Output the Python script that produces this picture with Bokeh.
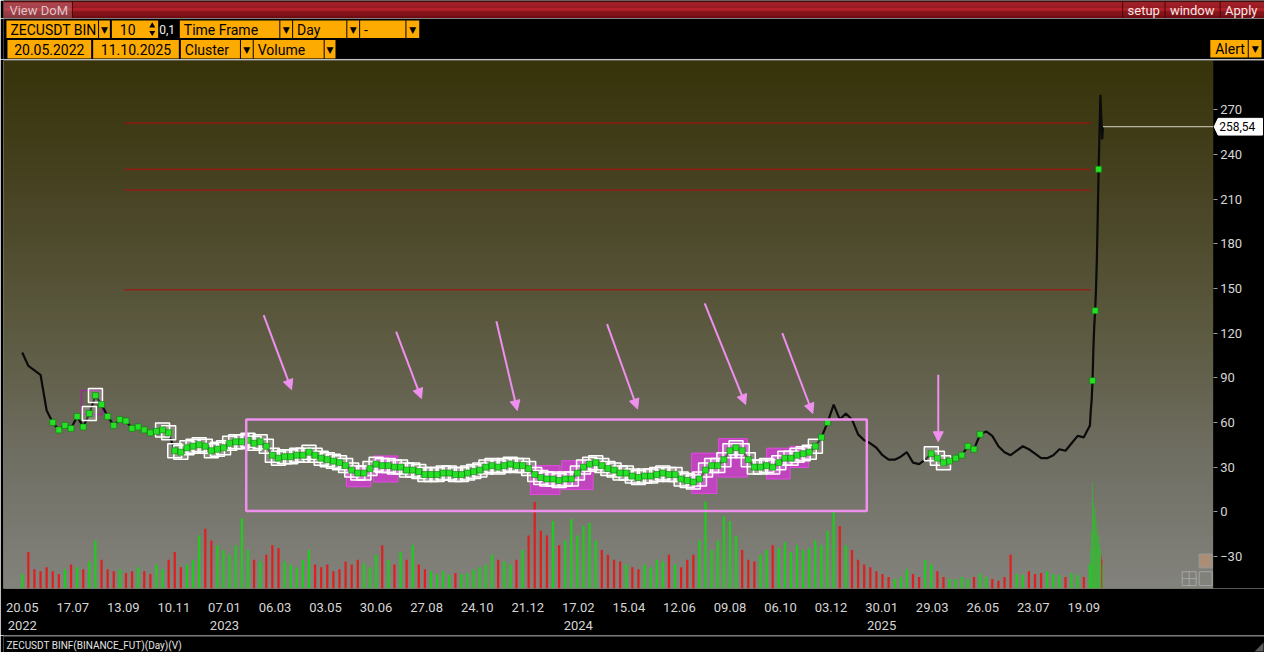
import numpy as np
import pandas as pd
from bokeh.plotting import figure
from bokeh.models import (Range1d, FixedTicker, ColumnDataSource, Arrow, NormalHead,
                          BoxAnnotation, LinearAxis)
from bokeh.layouts import column
from bokeh.embed import file_html
from bokeh.resources import INLINE
from bokeh.core.properties import value

# ---------------------------------------------------------------- data
START = "2022-05-20"

# weekly closes, one every 7 days from 20.05.2022
weekly_close = [
    107, 98, 95, 92, 68, 60, 55, 58, 56, 64,
    57, 66, 78, 72, 64, 58, 62, 61, 56, 57,
    55, 53, 54, 55, 53, 41, 40, 43, 44, 45,
    44, 41, 42, 43, 46, 47, 47, 48, 46, 47,
    44, 38, 36, 37, 37, 38, 38, 40, 38, 36,
    35, 34, 33, 31, 28, 26, 26, 29, 32, 31,
    31, 30, 30, 28, 28, 27, 25, 25, 25, 26,
    26, 25, 25, 26, 27, 28, 30, 31, 30, 31,
    32, 31, 31, 29, 25, 23, 22, 22, 21, 22,
    22, 26, 30, 32, 33, 31, 29, 28, 26, 26,
    24, 23, 24, 24, 25, 26, 25, 25, 22, 21,
    20, 22, 28, 31, 31, 35, 41, 43, 41, 35,
    30, 30, 31, 30, 33, 36, 36, 38, 39, 40,
    44, 50, 60, 72, 62, 66, 62, 52, 48, 46,
    43, 38, 35, 35, 37, 40, 33, 32, 35, 39,
    36, 33, 34, 36, 38, 44, 42, 52, 54, 51,
    44, 40, 38, 41, 44, 42, 39, 36, 36, 38,
    42, 41, 46, 51, 50, 58,
]
weekly_volume = [
    15, 38, 20, 18, 22, 18, 15, 20, 25, 22,
    20, 28, 50, 30, 20, 18, 20, 16, 18, 22,
    18, 15, 25, 20, 30, 38, 22, 25, 30, 55,
    62, 50, 45, 40, 35, 45, 73, 40, 30, 28,
    35, 45, 42, 28, 25, 22, 30, 40, 25, 22,
    25, 18, 20, 28, 25, 30, 26, 22, 35, 45,
    30, 25, 38, 30, 45, 25, 20, 18, 15, 18,
    14, 16, 15, 16, 20, 22, 25, 35, 30, 28,
    25, 30, 40, 55, 90, 60, 55, 70, 45, 50,
    72, 55, 65, 68, 50, 40, 35, 30, 28, 25,
    22, 20, 25, 22, 30, 28, 35, 25, 22, 30,
    35, 50, 90, 40, 50, 75, 70, 55, 40, 30,
    28, 35, 40, 45, 42, 48, 38, 45, 40, 42,
    50, 45, 60, 80, 65, 45, 40, 30, 25, 22,
    18, 15, 12, 10, 12, 20, 15, 12, 30, 25,
    18, 12, 10, 10, 12, 10, 12, 15, 12, 10,
    8, 12, 35, 15, 14, 18, 15, 16, 18, 15,
    14, 12, 16, 14, 12, 25,
]
# daily closes of the final breakout
breakout_dates = ["2025-09-27", "2025-09-28", "2025-09-29", "2025-09-30", "2025-10-01",
                  "2025-10-02", "2025-10-03", "2025-10-04", "2025-10-05", "2025-10-06",
                  "2025-10-07", "2025-10-08", "2025-10-09", "2025-10-10", "2025-10-11"]
breakout_close = [68, 75, 88, 110, 125, 135, 150, 170, 200, 230, 255, 280, 265, 250, 258.54]
breakout_volume = [40, 60, 110, 90, 75, 85, 60, 55, 70, 45, 55, 40, 35, 30, 25]

tick_dates = ["2022-05-20", "2022-07-17", "2022-09-13", "2022-11-10", "2023-01-07",
              "2023-03-06", "2023-05-03", "2023-06-30", "2023-08-27", "2023-10-24",
              "2023-12-21", "2024-02-17", "2024-04-15", "2024-06-12", "2024-08-09",
              "2024-10-06", "2024-12-03", "2025-01-30", "2025-03-29", "2025-05-26",
              "2025-07-23", "2025-09-19"]
tick_labels = ["20.05\n2022", "17.07", "13.09", "10.11", "07.01\n2023", "06.03", "03.05",
               "30.06", "27.08", "24.10", "21.12", "17.02\n2024", "15.04", "12.06", "09.08",
               "06.10", "03.12", "30.01\n2025", "29.03", "26.05", "23.07", "19.09"]
price_ticks = [-30, 0, 30, 60, 90, 120, 150, 180, 210, 240, 270]

levels = [261, 230, 216, 149]
level_from, level_to = "2022-09-14", "2025-09-27"
last_price = 258.54
last_price_text = "258,54"

zone_start, zone_end, zone_low, zone_high = "2023-02-01", "2025-01-13", 0.5, 62

hl_start = ["2023-05-27", "2023-06-27", "2023-12-24", "2024-01-29", "2024-06-26",
            "2024-07-27", "2024-09-20", "2024-10-17"]
hl_end = ["2023-06-24", "2023-07-25", "2024-01-27", "2024-03-05", "2024-07-25",
          "2024-08-29", "2024-10-17", "2024-11-07"]
hl_low = [16.8, 20, 11.6, 14.9, 12.3, 23.3, 22, 29.7]
hl_high = [31, 37.5, 31, 34.3, 39.4, 49.1, 42.7, 44]

arrow_from_date = ["2023-02-21", "2023-07-23", "2023-11-15", "2024-03-21", "2024-07-11",
                   "2024-10-08", "2025-04-05"]
arrow_from_price = [132, 121, 128, 126, 140, 120, 92]
arrow_to_date = ["2023-03-25", "2023-08-21", "2023-12-09", "2024-04-25", "2024-08-27",
                 "2024-11-12", "2025-04-05"]
arrow_to_price = [82, 76, 68, 69, 72, 66, 47]

# ---------------------------------------------------------------- helpers
T0 = pd.Timestamp(START)


def dnum(s):
    return (pd.Timestamp(s) - T0).days


W = 1264
PINK = "#ef8fee"
ORANGE = "#fdab00"
FONT = "Roboto"

weekly_days = [7 * i for i in range(len(weekly_close))]
days = weekly_days + [dnum(s) for s in breakout_dates]
close = weekly_close + breakout_close
vols = weekly_volume + breakout_volume
widths = [2.6] * len(weekly_close) + [0.7] * len(breakout_close)
vcol = ["#19d019" if i == 0 or close[i] >= close[i - 1] else "#e31b1b" for i in range(len(close))]


def vgrad(stops, n=240):
    t = np.linspace(0, 1, n)
    fr = [s[0] for s in stops]
    img = np.zeros((n, 1), dtype=np.uint32)
    v = img.view(dtype=np.uint8).reshape((n, 1, 4))
    for c in range(3):
        v[:, 0, c] = np.interp(t, fr, [s[1][c] for s in stops]).astype(np.uint8)
    v[:, 0, 3] = 255
    return img


def chrome(h, y_top, y_bot):
    f = figure(width=W, height=h, x_range=Range1d(0, 1280), y_range=Range1d(y_bot, y_top),
               toolbar_location=None, output_backend="svg", min_border=0,
               x_axis_location=None, y_axis_location=None, outline_line_color=None,
               background_fill_color="black", border_fill_color="black")
    f.grid.visible = False
    return f


def put_text(f, x, y, s, size="14px", color="black", align="left", font=FONT):
    f.text(x=[x], y=[y], text=[s], text_font=value(font), text_font_size=size,
           text_color=color, text_align=align, text_baseline="middle")


# ---------------------------------------------------------------- header bar
hdr = chrome(18, 0, 19)
top_c = np.array([206, 44, 54])
bot_c = np.array([146, 18, 26])
ys = np.arange(1, 19)
cols = []
for yy in ys:
    c = top_c + (bot_c - top_c) * (yy - 1) / 17.0
    cols.append("#%02x%02x%02x" % tuple(int(v) for v in c))
hdr.quad(left=0, right=1280, top=ys, bottom=ys + 1, fill_color=cols, line_color=None)
hdr.quad(left=0, right=1280, top=0, bottom=1, fill_color="#300606", line_color=None)
hdr.quad(left=0, right=70, top=2, bottom=19, fill_color="#c8a8b0", fill_alpha=0.28, line_color=None)
hdr.segment(x0=[70, 1136, 1179, 1235], x1=[70, 1136, 1179, 1235], y0=1, y1=19,
            line_color="#4a0508", line_width=1)
put_text(hdr, 6, 10.5, "View DoM", size="13px", color="#dcc6c8")
put_text(hdr, 1141, 10.5, "setup", size="13px", color="#f4e8e8")
put_text(hdr, 1184, 10.5, "window", size="13px", color="#f4e8e8")
put_text(hdr, 1240, 10.5, "Apply", size="13px", color="#f4e8e8")

# ---------------------------------------------------------------- toolbar
tb = chrome(41, 19, 61)
cells = [
    (3, 96, 21, 39, "ZECUSDT BIN", "left"),
    (97, 108, 21, 39, "▼", "center"),
    (110, 157, 21, 39, "10", "c126"),
    (179, 280, 21, 39, "Time Frame", "left"),
    (281, 293, 21, 39, "▼", "center"),
    (294, 348, 21, 39, "Day", "left"),
    (349, 361, 21, 39, "▼", "center"),
    (362, 408, 21, 39, "-", "left"),
    (409, 422, 21, 39, "▼", "center"),
    (4, 89, 41, 60, "20.05.2022", "center"),
    (91, 178, 41, 60, "11.10.2025", "center"),
    (180, 240, 41, 60, "Cluster", "left"),
    (241, 253, 41, 60, "▼", "center"),
    (254, 325, 41, 60, "Volume", "left"),
    (326, 337, 41, 60, "▼", "center"),
    (1225, 1263, 41, 59, "Alert", "right"),
    (1264, 1277, 41, 59, "▼", "center"),
]
tb.quad(left=[c[0] for c in cells], right=[c[1] for c in cells],
        top=[c[2] for c in cells], bottom=[c[3] for c in cells],
        fill_color=ORANGE, line_color=None)
for x0, x1, y0, y1, s, al in cells:
    ym = (y0 + y1) / 2 + 0.5
    if s == "▼":
        put_text(tb, (x0 + x1) / 2, ym, s, size="9px", align="center", font="DejaVu Sans")
    elif al == "left":
        put_text(tb, x0 + 4, ym, s)
    elif al == "right":
        put_text(tb, x1 - 3, ym, s, align="right")
    elif al == "c126":
        put_text(tb, 126, ym, s, align="center")
    else:
        put_text(tb, (x0 + x1) / 2, ym, s, align="center")
tb.scatter(x=[151, 151], y=[26.5, 33.5], marker=["triangle", "inverted_triangle"], size=6,
           fill_color="black", line_color=None)
put_text(tb, 158, 30.5, "0,1", size="12px", color="#f0f0f0")
tb.segment(x0=0, x1=1280, y0=60.8, y1=60.8, line_color="#3a3a3a", line_width=1)

# ---------------------------------------------------------------- main chart
x_lo, x_hi = -21.5, 1425.3      # frame spans the whole width, price scale inside it
ax_x = 1366.4                   # where the price scale stands
y_lo, y_hi = -51.5, 303
p = figure(width=W, height=576, x_range=Range1d(x_lo, x_hi), y_range=Range1d(y_lo, y_hi),
           y_axis_location=None, toolbar_location=None, output_backend="svg",
           min_border_left=3, min_border_right=0, min_border_top=1, min_border_bottom=39,
           border_fill_color="black", background_fill_color="#6a6858", outline_line_color=None)
p.grid.visible = False

bg = vgrad([(0.0, (131, 131, 125)), (0.237, (113, 112, 101)), (0.474, (93, 91, 66)),
            (0.747, (72, 68, 36)), (1.0, (55, 51, 10))])
p.image_rgba(image=[bg], x=x_lo, y=y_lo, dw=ax_x - x_lo, dh=y_hi - y_lo)
p.quad(left=ax_x, right=x_hi, bottom=y_lo, top=y_hi, fill_color="black", line_color=None)

px_day = (x_hi - x_lo) / 1261.0
px_val = (y_hi - y_lo) / 536.0

# volume (own hidden scale)
p.extra_y_ranges = {"vol": Range1d(0, 549)}
vsrc = ColumnDataSource(dict(x=days, top=vols, w=widths, c=vcol))
p.vbar(x="x", top="top", width="w", bottom=0, fill_color="c", line_color=None,
       fill_alpha=0.95, y_range_name="vol", source=vsrc)

# resistance levels
lv_from, lv_to = dnum(level_from), dnum(level_to)
p.segment(x0=lv_from, x1=lv_to, y0=levels, y1=levels, line_color="#b00e0e", line_width=1)

# magenta cluster highlights
p.quad(left=[dnum(s) for s in hl_start], right=[dnum(s) for s in hl_end],
       bottom=hl_low, top=hl_high, fill_color="#d33ad3", fill_alpha=0.8,
       line_color="#e34ae3", line_width=1)
p.quad(left=[dnum("2022-07-27")], right=[dnum("2022-08-20")], bottom=[65.3], top=[81.4],
       fill_color=None, line_color="#9a2c9a", line_width=1.5)

# price
p.line(days, close, line_color="#0b0b0b", line_width=2.2)

# cluster markers
d_arr = np.array(days)
c_arr = np.array(close, dtype=float)
white_mask = ((d_arr >= 160) & (d_arr <= 915)) | ((d_arr >= 75) & (d_arr <= 90)) | \
             ((d_arr >= 1040) & (d_arr <= 1060))
green_mask = ((d_arr >= 35) & (d_arr <= 930)) | ((d_arr >= 1040) & (d_arr <= 1100)) | \
             np.isin(d_arr, [dnum("2025-09-29"), dnum("2025-10-02"), dnum("2025-10-06")])
p.scatter(x=d_arr[white_mask], y=c_arr[white_mask], marker="square", size=14,
          fill_color="white", fill_alpha=0.2, line_color="white", line_width=1.5)
p.scatter(x=d_arr[green_mask], y=c_arr[green_mask], marker="square", size=6,
          fill_color="#25e025", line_color="#0f7a0f", line_width=0.6)

# highlighted zone and arrows
p.add_layout(BoxAnnotation(left=dnum(zone_start), right=dnum(zone_end), bottom=zone_low,
                           top=zone_high, fill_color=None, line_color=PINK, line_alpha=1.0,
                           line_width=2.5))
asrc = ColumnDataSource(dict(x0=[dnum(s) for s in arrow_from_date], y0=arrow_from_price,
                             x1=[dnum(s) for s in arrow_to_date], y1=arrow_to_price))
p.add_layout(Arrow(end=NormalHead(size=10, fill_color=PINK, line_color=PINK),
                   x_start="x0", y_start="y0", x_end="x1", y_end="y1", source=asrc,
                   line_color=PINK, line_width=2))

# last price line and tag
p.segment(x0=days[-1], x1=ax_x, y0=last_price, y1=last_price, line_color="#d4d4c4",
          line_width=1)
lp = last_price
p.patch(x=[ax_x + 1 * px_day, ax_x + 5 * px_day, x_hi - 2 * px_day, x_hi - 2 * px_day,
           ax_x + 5 * px_day],
        y=[lp, lp + 8.5 * px_val, lp + 8.5 * px_val, lp - 8.5 * px_val, lp - 8.5 * px_val],
        fill_color="white", line_color="white")
p.text(x=[ax_x + 6 * px_day], y=[lp], text=[last_price_text], text_font=value(FONT),
       text_font_size="12px", text_color="black", text_baseline="middle", text_align="left")

# small chart-corner tool icons (just left of the price scale)
ix1 = ax_x - 1 * px_day
ix0 = ax_x - 14 * px_day
gx1 = ax_x - 17 * px_day
gx0 = ax_x - 31 * px_day
iy_top = y_lo + 35 * px_val
iy_mid = y_lo + 21 * px_val
iy_low = y_lo + 17 * px_val
iy_bot = y_lo + 3 * px_val
p.quad(left=[ix0], right=[ix1], bottom=[iy_mid], top=[iy_top], fill_color="#c89878",
       fill_alpha=0.6, line_color="#9a9a9a", line_width=1)
p.quad(left=[gx0, ix0], right=[gx1, ix1], bottom=[iy_bot, iy_bot], top=[iy_low, iy_low],
       fill_color=None, line_color="#a6a6a6", line_width=1)
p.segment(x0=[(gx0 + gx1) / 2, gx0], x1=[(gx0 + gx1) / 2, gx1],
          y0=[iy_bot, (iy_bot + iy_low) / 2], y1=[iy_low, (iy_bot + iy_low) / 2],
          line_color="#a6a6a6", line_width=1)

# price scale (inside the frame, at ax_x)
yax = LinearAxis(fixed_location=ax_x, ticker=FixedTicker(ticks=price_ticks))
yax.major_label_text_color = "#d6d6d6"
yax.major_label_text_font = FONT
yax.major_label_text_font_size = "13px"
yax.major_tick_line_color = "#9a9a9a"
yax.major_tick_out = 4
yax.major_tick_in = 0
yax.minor_tick_line_color = None
yax.axis_line_color = None
yax.major_label_standoff = 3
p.add_layout(yax, "right")

tick_days = [dnum(s) for s in tick_dates]
p.xaxis.ticker = FixedTicker(ticks=tick_days)
p.xaxis.major_label_overrides = {td: lab for td, lab in zip(tick_days, tick_labels)}
p.xaxis.major_label_text_color = "#d6d6d6"
p.xaxis.major_label_text_font = FONT
p.xaxis.major_label_text_font_size = "13px"
p.xaxis.major_tick_line_color = None
p.xaxis.minor_tick_line_color = None
p.xaxis.axis_line_color = None
p.xaxis.major_label_standoff = 5

# ---------------------------------------------------------------- status bar
st = chrome(17, 651, 668)
st.segment(x0=0, x1=1280, y0=651.6, y1=651.6, line_color="#6c6c6c", line_width=1)
put_text(st, 3, 660.5, "ZECUSDT BINF(BINANCE_FUT)(Day)(V)", size="10px", color="#e4e4e4")
st.patch(x=[1270, 1279, 1279], y=[667, 658, 667], fill_color="#5a5a5a", line_color=None)

layout = column(hdr, tb, p, st, spacing=0)
open("out.html", "w").write(file_html(layout, INLINE))
